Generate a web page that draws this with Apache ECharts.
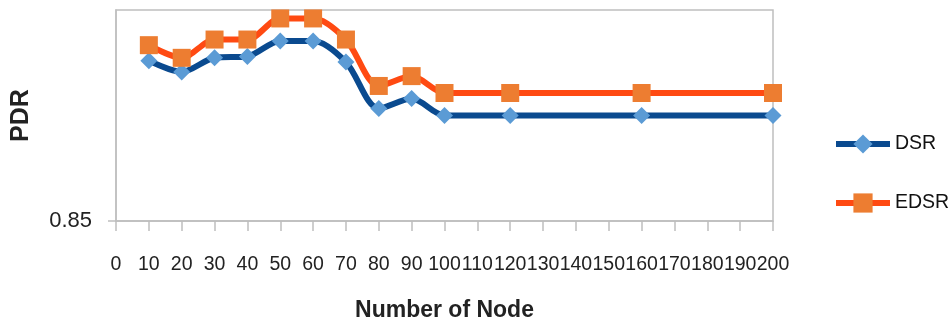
<!DOCTYPE html>
<html>
<head>
<meta charset="utf-8">
<script src="https://cdn.jsdelivr.net/npm/echarts@6/dist/echarts.min.js"></script>
<style>
  html, body { margin: 0; padding: 0; background: #fff; }
  #chart { width: 951px; height: 327px; }
</style>
</head>
<body>
<div id="chart"></div>
<script>
// number of nodes
const nodes = [10, 20, 30, 40, 50, 60, 70, 80, 90, 100, 120, 160, 200];
// PDR per protocol
const dsr = [0.964, 0.956, 0.966, 0.967, 0.978, 0.978, 0.963, 0.930, 0.937, 0.925, 0.925, 0.925, 0.925];
const edsr = [0.975, 0.966, 0.979, 0.979, 0.994, 0.994, 0.979, 0.946, 0.953, 0.941, 0.941, 0.941, 0.941];

const font = "'Liberation Sans', 'Open Sans', sans-serif";
const gray = "#bfbfbf";

const chart = echarts.init(document.getElementById("chart"));
chart.setOption({
    animation: false,
    textStyle: { fontFamily: font },
    grid: { left: 116, right: 178, top: 10, bottom: 106, show: true, borderColor: gray, borderWidth: 1.5 },
    legend: {
        orient: "vertical",
        left: 828,
        top: 129,
        itemWidth: 54,
        itemHeight: 24,
        itemGap: 39,
        lineStyle: { width: 6 },
        textStyle: { fontSize: 19.5, color: "#111", fontFamily: font },
        data: ["DSR", "EDSR"],
    },
    xAxis: {
        type: "value",
        min: 0,
        max: 200,
        interval: 10,
        name: "Number of Node",
        nameLocation: "middle",
        nameGap: 78,
        nameTextStyle: { fontSize: 23, fontWeight: "bold", color: "#222" },
        axisLine: { show: true, lineStyle: { color: gray, width: 1.5 } },
        axisTick: { show: true, length: 10, lineStyle: { color: gray, width: 1.5 } },
        axisLabel: { fontSize: 19.5, color: "#222", margin: 34, showMinLabel: true, showMaxLabel: true },
        splitLine: { show: false },
    },
    yAxis: {
        type: "value",
        min: 0.85,
        max: 1.0,
        interval: 0.15,
        name: "PDR",
        nameLocation: "middle",
        nameGap: 82,
        nameRotate: 90,
        nameTextStyle: { fontSize: 25, fontWeight: "bold", color: "#222" },
        axisLine: { show: true, lineStyle: { color: gray, width: 1.5 } },
        axisTick: { show: true, length: 8, customValues: [0.85], lineStyle: { color: gray, width: 1.5 } },
        axisLabel: {
            fontSize: 22,
            color: "#222",
            margin: 24,
            customValues: [0.85],
            formatter: (v) => v.toFixed(2),
        },
        splitLine: { show: false },
    },
    series: [
        {
            name: "DSR",
            type: "line",
            smooth: 0.3,
            data: nodes.map((n, i) => [n, dsr[i]]),
            lineStyle: { color: "#0a4a8f", width: 6 },
            symbol: "diamond",
            symbolSize: 17,
            itemStyle: { color: "#5b9bd5" },
            z: 2,
        },
        {
            name: "EDSR",
            type: "line",
            smooth: 0.3,
            data: nodes.map((n, i) => [n, edsr[i]]),
            lineStyle: { color: "#ff4a12", width: 6 },
            symbol: "rect",
            symbolSize: 18,
            itemStyle: { color: "#ed7d31" },
            z: 3,
        },
    ],
});
</script>
</body>
</html>
